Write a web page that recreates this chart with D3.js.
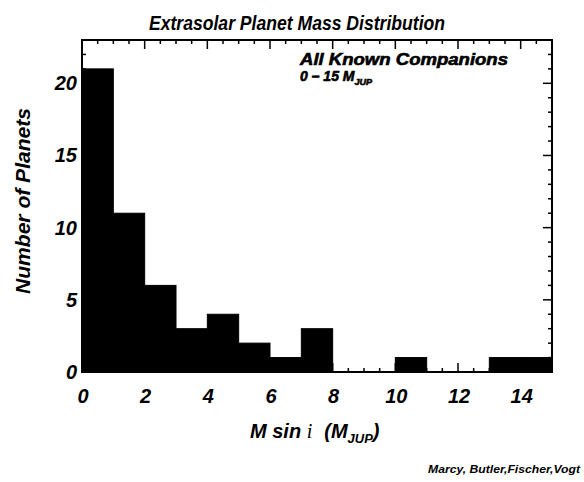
<!DOCTYPE html>
<html>
<head>
<meta charset="utf-8">
<script src="https://cdn.jsdelivr.net/npm/d3@7"></script>
<style>
  body { margin: 0; background: #fff; }
  svg { display: block; }
</style>
</head>
<body>
<div id="chart"></div>
<script>
// histogram bins (M sin i, Jupiter masses) and counts
const binStarts = [0, 1, 2, 3, 4, 5, 6, 7, 8, 9, 10, 11, 12, 13, 14];
const counts = [21, 11, 6, 3, 4, 2, 1, 3, 0, 0, 1, 0, 0, 1, 1];
const xTicks = [0, 2, 4, 6, 8, 10, 12, 14];
const yTicks = [0, 5, 10, 15, 20];

const width = 584;
const height = 482;
const margin = { top: 40, right: 32, bottom: 110, left: 82 };
const graphW = width - margin.left - margin.right;
const graphH = height - margin.top - margin.bottom;
const font = "'Liberation Sans', Arial, sans-serif";

const svg = d3.select("#chart").append("svg")
    .attr("width", width)
    .attr("height", height);

const group = svg.append("g")
    .attr("transform", `translate(${margin.left}, ${margin.top})`);

const x = d3.scaleLinear().domain([0, 15]).range([0, graphW]);
const y = d3.scaleLinear().domain([0, 23]).range([graphH, 0]);

// bars (stroked so neighbours merge without seams)
group.append("g")
    .selectAll("rect")
    .data(binStarts)
    .join("rect")
    .attr("x", d => x(d))
    .attr("y", (d, i) => y(counts[i]))
    .attr("width", d => x(d + 1) - x(d))
    .attr("height", (d, i) => graphH - y(counts[i]))
    .attr("fill", "#000")
    .attr("stroke", "#000")
    .attr("stroke-width", 1);

// ticks on all four sides, pointing inward
const xMinor = d3.range(0, 15.01, 0.5);
const yMinor = d3.range(0, 23.01, 1);
function tickLine(sel, vals, fn) {
    sel.selectAll("line").data(vals).join("line")
        .attr("stroke", "#000").attr("stroke-width", 1.5)
        .each(fn);
}
const ticks = group.append("g");
tickLine(ticks.append("g"), xMinor, function (d) {
    const len = d % 2 === 0 ? 9 : 4;
    d3.select(this).attr("x1", x(d)).attr("x2", x(d)).attr("y1", graphH).attr("y2", graphH - len);
});
tickLine(ticks.append("g"), xMinor, function (d) {
    const len = d % 2 === 0 ? 9 : 4;
    d3.select(this).attr("x1", x(d)).attr("x2", x(d)).attr("y1", 0).attr("y2", len);
});
tickLine(ticks.append("g"), yMinor, function (d) {
    const len = d % 5 === 0 ? 9 : 4;
    d3.select(this).attr("x1", 0).attr("x2", len).attr("y1", y(d)).attr("y2", y(d));
});
tickLine(ticks.append("g"), yMinor, function (d) {
    const len = d % 5 === 0 ? 9 : 4;
    d3.select(this).attr("x1", graphW).attr("x2", graphW - len).attr("y1", y(d)).attr("y2", y(d));
});

// frame
group.append("rect")
    .attr("width", graphW)
    .attr("height", graphH)
    .attr("fill", "none")
    .attr("stroke", "#000")
    .attr("stroke-width", 2);

// tick labels
group.append("g")
    .selectAll("text")
    .data(xTicks)
    .join("text")
    .attr("x", d => x(d) + 1)
    .attr("y", graphH + 31)
    .attr("text-anchor", "middle")
    .style("font-family", font)
    .style("font-size", "20px")
    .style("font-weight", 700)
    .style("font-style", "italic")
    .text(d => d);

group.append("g")
    .selectAll("text")
    .data(yTicks)
    .join("text")
    .attr("x", -5)
    .attr("y", d => y(d) + 7)
    .attr("text-anchor", "end")
    .style("font-family", font)
    .style("font-size", "20px")
    .style("font-weight", 700)
    .style("font-style", "italic")
    .text(d => d);

// title
svg.append("text")
    .attr("x", 297)
    .attr("y", 30)
    .attr("text-anchor", "middle")
    .attr("textLength", 296)
    .attr("lengthAdjust", "spacingAndGlyphs")
    .style("font-family", font)
    .style("font-size", "20px")
    .style("font-style", "italic")
    .style("font-weight", 700)
    .text("Extrasolar Planet Mass Distribution");

// y label
svg.append("text")
    .attr("transform", "translate(30, 201) rotate(-90)")
    .attr("text-anchor", "middle")
    .attr("textLength", 186)
    .attr("lengthAdjust", "spacingAndGlyphs")
    .style("font-family", font)
    .style("font-size", "21px")
    .style("font-style", "italic")
    .style("font-weight", 700)
    .text("Number of Planets");

// x label: M sin i  (M_JUP)
const xl = svg.append("text")
    .attr("x", 250)
    .attr("y", 438)
    .style("font-family", font)
    .style("font-size", "20px")
    .style("font-style", "italic")
    .style("font-weight", 700);
xl.append("tspan").text("M sin ");
xl.append("tspan").style("font-family", "'Liberation Serif', serif").style("font-weight", 400).text("i");
xl.append("tspan").attr("dx", 12).text("(M");
xl.append("tspan").attr("dy", 5).style("font-size", "13px").text("JUP");
xl.append("tspan").attr("dy", -5).text(")");

// inset label
const inset = svg.append("g")
    .style("font-family", font)
    .style("font-style", "italic")
    .style("font-weight", 700)
    .attr("stroke", "#000")
    .attr("stroke-width", 0.6);
inset.append("text")
    .attr("x", 300)
    .attr("y", 65)
    .attr("textLength", 208)
    .attr("lengthAdjust", "spacingAndGlyphs")
    .style("font-size", "16px")
    .text("All Known Companions");
const sub = inset.append("text")
    .attr("x", 300)
    .attr("y", 81)
    .style("font-size", "14px");
sub.append("tspan").text("0 \u2013 15 M");
sub.append("tspan").attr("dy", 4).style("font-size", "9px").text("JUP");

// credit
svg.append("text")
    .attr("x", 580)
    .attr("y", 473)
    .attr("text-anchor", "end")
    .attr("textLength", 152)
    .attr("lengthAdjust", "spacingAndGlyphs")
    .style("font-family", font)
    .style("font-size", "11px")
    .style("font-style", "italic")
    .style("font-weight", 700)
    .text("Marcy, Butler,Fischer,Vogt");
</script>
</body>
</html>
